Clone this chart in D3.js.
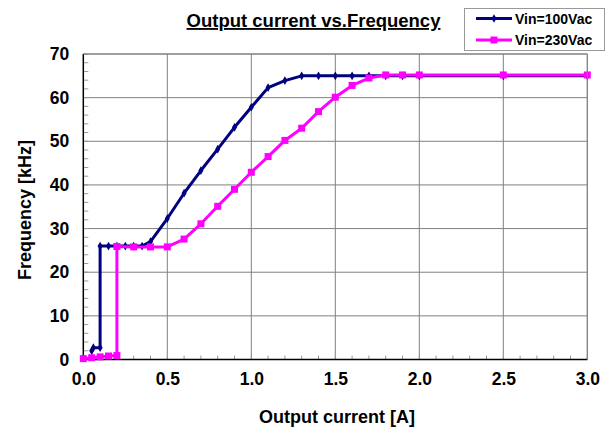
<!DOCTYPE html>
<html><head><meta charset="utf-8">
<script src="https://cdn.jsdelivr.net/npm/d3@7"></script>
<style>body{margin:0;background:#fff}svg{display:block}text{font-family:Arial,"Liberation Sans",sans-serif;font-weight:bold}</style>
</head><body><svg id="c" width="612" height="427"></svg>
<script>
const title = "Output current vs.Frequency";
const xTitle = "Output current [A]";
const yTitle = "Frequency [kHz]";
const seriesNames = ["Vin=100Vac", "Vin=230Vac"];
const xTicks = [0, 0.5, 1.0, 1.5, 2.0, 2.5, 3.0];
const yTicks = [0, 10, 20, 30, 40, 50, 60, 70];
const current100 = [0.05, 0.06, 0.1, 0.1, 0.15, 0.2, 0.25, 0.3, 0.35, 0.4, 0.5, 0.6, 0.7, 0.8, 0.9, 1.0, 1.1, 1.2, 1.3, 1.4, 1.5, 1.6, 1.7, 1.8, 1.9, 2.0, 2.5, 3.0];
const freq100 =    [2.0, 2.7, 2.7, 26.0, 26.0, 26.0, 26.0, 26.0, 26.0, 27.0, 32.3, 38.1, 43.3, 48.2, 53.2, 57.8, 62.3, 63.9, 65.0, 65.0, 65.0, 65.0, 65.0, 65.0, 65.0, 65.0, 65.0, 65.0];
const current230 = [0, 0.05, 0.1, 0.15, 0.2, 0.2, 0.3, 0.4, 0.5, 0.6, 0.7, 0.8, 0.9, 1.0, 1.1, 1.2, 1.3, 1.4, 1.5, 1.6, 1.7, 1.8, 1.9, 2.0, 2.5, 3.0];
const freq230 =    [0.2, 0.4, 0.6, 0.8, 0.9, 25.9, 25.8, 25.8, 25.8, 27.6, 31.1, 35.1, 39.0, 42.9, 46.5, 50.2, 53.0, 56.8, 60.1, 62.8, 64.5, 65.2, 65.2, 65.2, 65.2, 65.2];

const svg = d3.select("#c");
const L = 83.3, R = 587.3, T = 54, B = 359.5;
const x = d3.scaleLinear().domain([0, 3]).range([L, R]);
const y = d3.scaleLinear().domain([0, 70]).range([B, T]);

// gridlines
const g = svg.append("g");
g.selectAll(".vg").data(xTicks.slice(1)).enter().append("line")
  .attr("x1", d => x(d)).attr("x2", d => x(d)).attr("y1", T).attr("y2", B)
  .attr("stroke", "#808080").attr("stroke-width", 1);
g.selectAll(".hg").data(yTicks.slice(1)).enter().append("line")
  .attr("x1", L).attr("x2", R).attr("y1", d => y(d)).attr("y2", d => y(d))
  .attr("stroke", "#808080").attr("stroke-width", 1);

// minor ticks (inside)
const yMinor = d3.range(0, 70.01, 2);
g.selectAll(".ym").data(yMinor).enter().append("line")
  .attr("x1", L).attr("x2", L + 5).attr("y1", d => y(d)).attr("y2", d => y(d))
  .attr("stroke", "#999").attr("stroke-width", 1);
const xMinor = d3.range(0, 3.001, 0.1);
g.selectAll(".xm").data(xMinor).enter().append("line")
  .attr("x1", d => x(d)).attr("x2", d => x(d)).attr("y1", B).attr("y2", B - 4)
  .attr("stroke", "#999").attr("stroke-width", 1);

// axes lines
svg.append("line").attr("x1", L).attr("x2", L).attr("y1", T).attr("y2", B).attr("stroke", "#000").attr("stroke-width", 1.5);
svg.append("line").attr("x1", L).attr("x2", R).attr("y1", B).attr("y2", B).attr("stroke", "#000").attr("stroke-width", 1.5);

// tick labels via d3 axes
const xAxis = d3.axisBottom(x).tickValues(xTicks).tickFormat(d3.format(".1f")).tickSize(0).tickPadding(13);
const xa = svg.append("g").attr("transform", `translate(0,${B})`).call(xAxis);
xa.select(".domain").remove();
xa.selectAll("text").attr("font-size", 17.5).attr("fill", "#000").style("font-family", "Arial,'Liberation Sans',sans-serif").style("font-weight", "bold");
const yAxis = d3.axisLeft(y).tickValues(yTicks).tickFormat(d3.format("d")).tickSize(0).tickPadding(14);
const ya = svg.append("g").attr("transform", `translate(${L},0)`).call(yAxis);
ya.select(".domain").remove();
ya.selectAll("text").attr("font-size", 17.5).attr("fill", "#000").style("font-family", "Arial,'Liberation Sans',sans-serif").style("font-weight", "bold");

// series
const s100 = current100.map((c, i) => [c, freq100[i]]);
const s230 = current230.map((c, i) => [c, freq230[i]]);
const line = d3.line().x(d => x(d[0])).y(d => y(d[1]));

svg.append("path").datum(s100).attr("d", line).attr("fill", "none").attr("stroke", "#000080").attr("stroke-width", 3).attr("stroke-linejoin", "round");
svg.selectAll(".m100").data(s100).enter().append("path")
  .attr("d", d3.symbol(d3.symbolDiamond, 22))
  .attr("transform", d => `translate(${x(d[0])},${y(d[1])})`).attr("fill", "#000080");

svg.append("path").datum(s230).attr("d", line).attr("fill", "none").attr("stroke", "#FF00FF").attr("stroke-width", 3).attr("stroke-linejoin", "round");
svg.selectAll(".m230").data(s230).enter().append("rect")
  .attr("x", d => x(d[0]) - 3.5).attr("y", d => y(d[1]) - 3.5).attr("width", 7).attr("height", 7).attr("fill", "#FF00FF");

// titles
svg.append("text").attr("x", 313.5).attr("y", 27).attr("text-anchor", "middle").attr("font-size", 18.5)
  .attr("text-decoration", "underline").text(title);
svg.append("text").attr("x", 337).attr("y", 423).attr("text-anchor", "middle").attr("font-size", 18).text(xTitle);
svg.append("text").attr("transform", "translate(31,210) rotate(-90)").attr("text-anchor", "middle").attr("font-size", 18).text(yTitle);

// legend
const lg = svg.append("g");
lg.append("rect").attr("x", 464.5).attr("y", 8.5).attr("width", 140).attr("height", 42).attr("fill", "#fff").attr("stroke", "#999").attr("stroke-width", 1);
const colors = ["#000080", "#FF00FF"];
seriesNames.forEach((nm, i) => {
  const yy = 18.5 + i * 21.5;
  lg.append("line").attr("x1", 476).attr("x2", 512).attr("y1", yy).attr("y2", yy).attr("stroke", colors[i]).attr("stroke-width", 3);
  if (i === 0) lg.append("path").attr("d", d3.symbol(d3.symbolDiamond, 22)).attr("transform", `translate(494,${yy})`).attr("fill", colors[i]);
  else lg.append("rect").attr("x", 490.5).attr("y", yy - 3.5).attr("width", 7).attr("height", 7).attr("fill", colors[i]);
  lg.append("text").attr("x", 515).attr("y", yy + 5).attr("font-size", 14).text(nm);
});

// plot frame top/right
svg.append("line").attr("x1", L).attr("x2", R).attr("y1", T).attr("y2", T).attr("stroke", "#808080");
svg.append("line").attr("x1", R).attr("x2", R).attr("y1", T).attr("y2", B).attr("stroke", "#808080");
</script></body></html>
